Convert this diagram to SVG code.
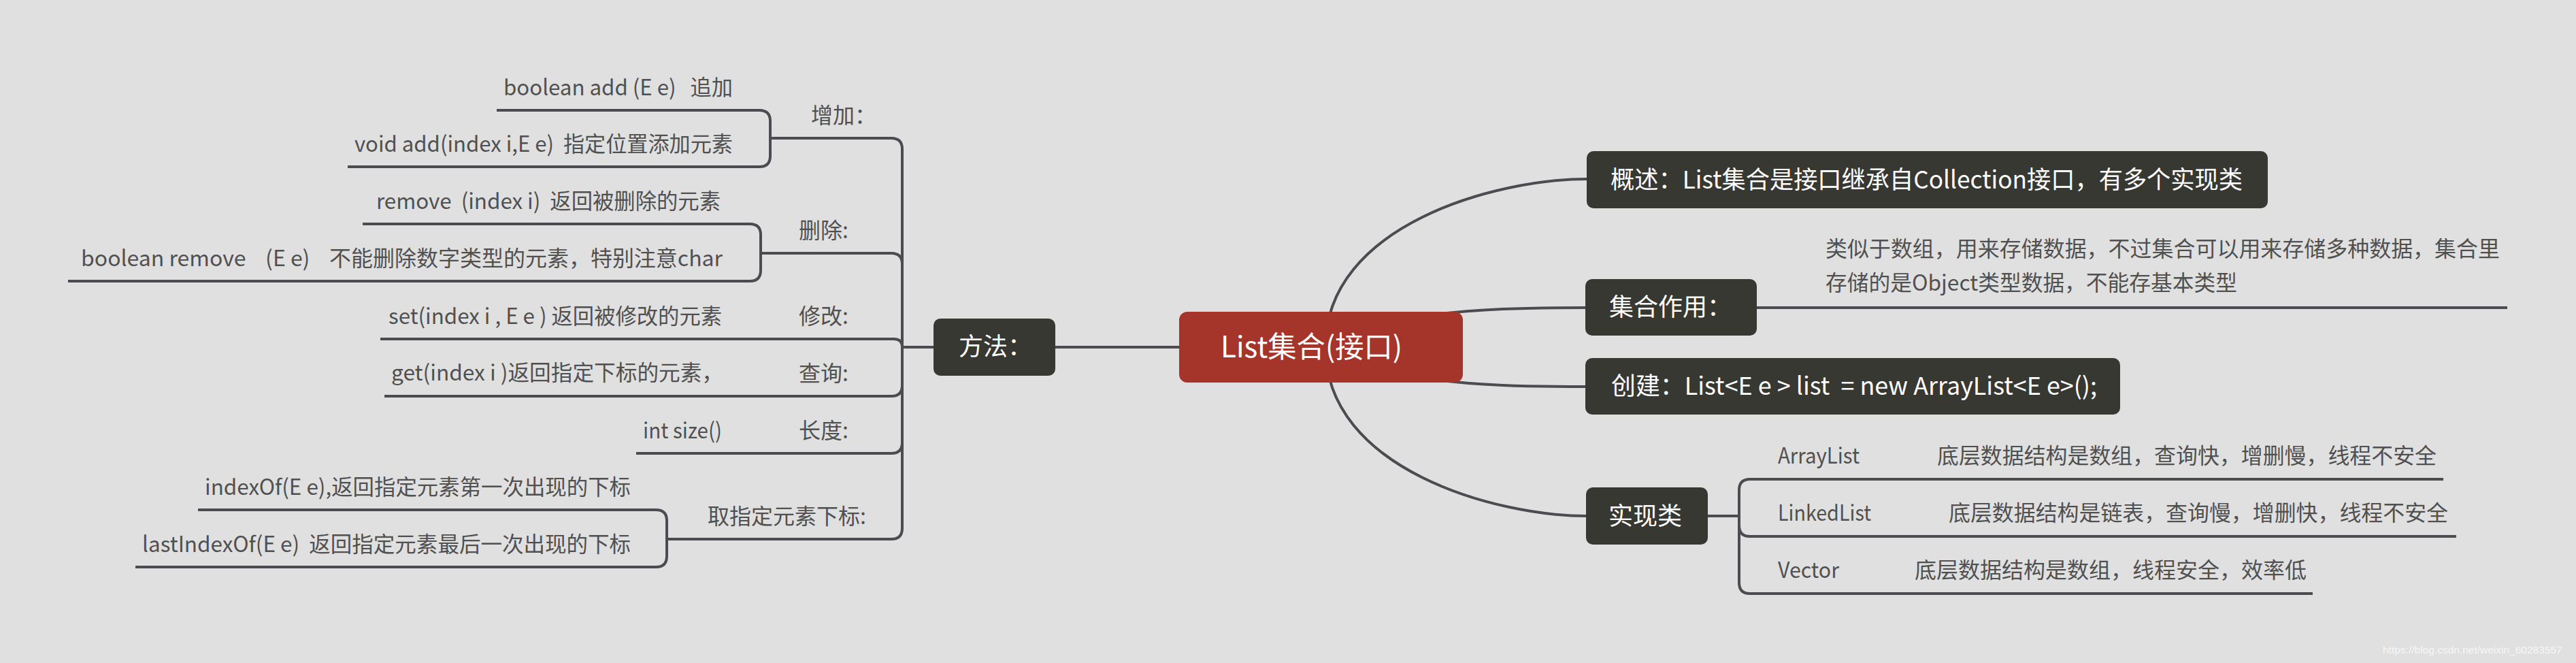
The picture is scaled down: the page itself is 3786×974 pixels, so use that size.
<svg xmlns="http://www.w3.org/2000/svg" width="3786" height="974" viewBox="0 0 3786 974">
<style>
.bg{fill:#e0e0e0}
.ln{fill:none;stroke:#4b4b50;stroke-width:4;stroke-linecap:butt}
.nd{fill:#383833}
.root{fill:#a5352a}
.wt{font-family:"Noto Sans CJK SC","Microsoft YaHei",sans-serif;fill:#ffffff;font-size:36px;white-space:pre}
.rt{font-family:"Noto Sans CJK SC","Microsoft YaHei",sans-serif;fill:#ffffff;font-size:43px}
.dt{font-family:"Noto Sans CJK SC","Microsoft YaHei",sans-serif;fill:#505050;font-size:32px;white-space:pre}
.wm{font-family:"Liberation Sans",Arial,sans-serif;fill:#ffffff;fill-opacity:0.75;font-size:15.5px}
</style>
<rect class="bg" x="0" y="0" width="3786" height="974"/>
<g id="connectors">
<path class="ln" d="M1551 510 H1733"/>
<path class="ln" d="M1948 510 C1948 330 2200 263 2332 263"/>
<path class="ln" d="M1941 510 C2050 460 2150 452 2330 452"/>
<path class="ln" d="M1941 510 C2050 560 2150 568 2330 568"/>
<path class="ln" d="M1948 510 C1948 690 2200 758 2331 758"/>
<path class="ln" d="M1372 510 H1326 V219 Q1326 203 1310 203 H1132"/>
<path class="ln" d="M1372 510 H1326 V388 Q1326 372 1310 372 H1118"/>
<path class="ln" d="M1372 510 H1326 Q1326 498 1314 498 H559"/>
<path class="ln" d="M1326 510 V566 Q1326 582 1310 582 H565"/>
<path class="ln" d="M1326 510 V650 Q1326 666 1310 666 H935"/>
<path class="ln" d="M1326 510 V776 Q1326 792 1310 792 H980"/>
<path class="ln" d="M1132 203 V178 Q1132 162 1116 162 H730"/>
<path class="ln" d="M1132 203 V229 Q1132 245 1116 245 H511"/>
<path class="ln" d="M1118 372 V345 Q1118 329 1102 329 H533"/>
<path class="ln" d="M1118 372 V397 Q1118 413 1102 413 H100"/>
<path class="ln" d="M980 792 V765 Q980 749 964 749 H291"/>
<path class="ln" d="M980 792 V817 Q980 833 964 833 H199"/>
<path class="ln" d="M2582 452 H3685"/>
<path class="ln" d="M2510 758 H2556 V720 Q2556 704 2572 704 H3591"/>
<path class="ln" d="M2556 758 V772 Q2556 788 2572 788 H3610"/>
<path class="ln" d="M2556 758 V856 Q2556 872 2572 872 H3399"/>
</g>
<g id="root"><rect class="root" x="1733" y="458" width="417" height="104" rx="12"/><text class="rt" x="1794" y="525" textLength="267" lengthAdjust="spacingAndGlyphs">List集合(接口)</text></g>
<g id="node-fangfa"><rect class="nd" x="1372" y="468" width="179" height="84" rx="10"/><text class="wt" x="1409" y="522">方法：</text></g>
<g id="node-gaishu"><rect class="nd" x="2332" y="222" width="1001" height="84" rx="10"/><text class="wt" x="2367" y="277" textLength="929" lengthAdjust="spacingAndGlyphs">概述：List集合是接口继承自Collection接口，有多个实现类</text></g>
<g id="node-zuoyong"><rect class="nd" x="2330" y="410" width="252" height="83" rx="10"/><text class="wt" x="2365" y="464">集合作用：</text></g>
<g id="node-zuoyong-detail"><text class="dt" x="2683" y="377" textLength="991" lengthAdjust="spacingAndGlyphs">类似于数组，用来存储数据，不过集合可以用来存储多种数据，集合里</text><text class="dt" x="2683" y="427" textLength="605" lengthAdjust="spacingAndGlyphs">存储的是Object类型数据，不能存基本类型</text></g>
<g id="node-chuangjian"><rect class="nd" x="2330" y="526" width="786" height="83" rx="10"/><text class="wt" x="2368" y="580" textLength="714" lengthAdjust="spacingAndGlyphs">创建：List&lt;E e &gt; list  = new ArrayList&lt;E e&gt;();</text></g>
<g id="node-shixianlei"><rect class="nd" x="2331" y="716" width="179" height="84" rx="10"/><text class="wt" x="2364" y="771">实现类</text></g>
<g id="node-arraylist"><text class="dt" x="2613" y="681" textLength="120" lengthAdjust="spacingAndGlyphs">ArrayList</text><text class="dt" x="2847" y="681" textLength="734" lengthAdjust="spacingAndGlyphs">底层数据结构是数组，查询快，增删慢，线程不安全</text></g>
<g id="node-linkedlist"><text class="dt" x="2613" y="765" textLength="137" lengthAdjust="spacingAndGlyphs">LinkedList</text><text class="dt" x="2864" y="765" textLength="734" lengthAdjust="spacingAndGlyphs">底层数据结构是链表，查询慢，增删快，线程不安全</text></g>
<g id="node-vector"><text class="dt" x="2613" y="849" textLength="90" lengthAdjust="spacingAndGlyphs">Vector</text><text class="dt" x="2814" y="849" textLength="576" lengthAdjust="spacingAndGlyphs">底层数据结构是数组，线程安全，效率低</text></g>
<g id="node-zengjia"><text class="dt" x="1192" y="181">增加：</text></g>
<g id="node-add1"><text class="dt" x="740" y="140" textLength="337" lengthAdjust="spacingAndGlyphs">boolean add (E e)   追加</text></g>
<g id="node-add2"><text class="dt" x="521" y="223" textLength="556" lengthAdjust="spacingAndGlyphs">void add(index i,E e)  指定位置添加元素</text></g>
<g id="node-shanchu"><text class="dt" x="1174" y="350">删除:</text></g>
<g id="node-remove1"><text class="dt" x="553" y="307" textLength="506" lengthAdjust="spacingAndGlyphs">remove  (index i)  返回被删除的元素</text></g>
<g id="node-remove2"><text class="dt" x="119" y="391" textLength="943" lengthAdjust="spacingAndGlyphs">boolean remove    (E e)    不能删除数字类型的元素，特别注意char</text></g>
<g id="node-xiugai"><text class="dt" x="1174" y="476">修改:</text></g>
<g id="node-set"><text class="dt" x="571" y="476" textLength="490" lengthAdjust="spacingAndGlyphs">set(index i , E e ) 返回被修改的元素</text></g>
<g id="node-chaxun"><text class="dt" x="1174" y="560">查询:</text></g>
<g id="node-get"><text class="dt" x="575" y="559" textLength="488" lengthAdjust="spacingAndGlyphs">get(index i )返回指定下标的元素，</text></g>
<g id="node-changdu"><text class="dt" x="1174" y="644">长度:</text></g>
<g id="node-size"><text class="dt" x="945" y="644" textLength="116" lengthAdjust="spacingAndGlyphs">int size()</text></g>
<g id="node-quzhiding"><text class="dt" x="1040" y="770">取指定元素下标:</text></g>
<g id="node-indexof"><text class="dt" x="301" y="727" textLength="626" lengthAdjust="spacingAndGlyphs">indexOf(E e),返回指定元素第一次出现的下标</text></g>
<g id="node-lastindexof"><text class="dt" x="209" y="811" textLength="718" lengthAdjust="spacingAndGlyphs">lastIndexOf(E e)  返回指定元素最后一次出现的下标</text></g>
<text class="wm" x="3502" y="960">https://blog.csdn.net/weixin_60283557</text>
</svg>
